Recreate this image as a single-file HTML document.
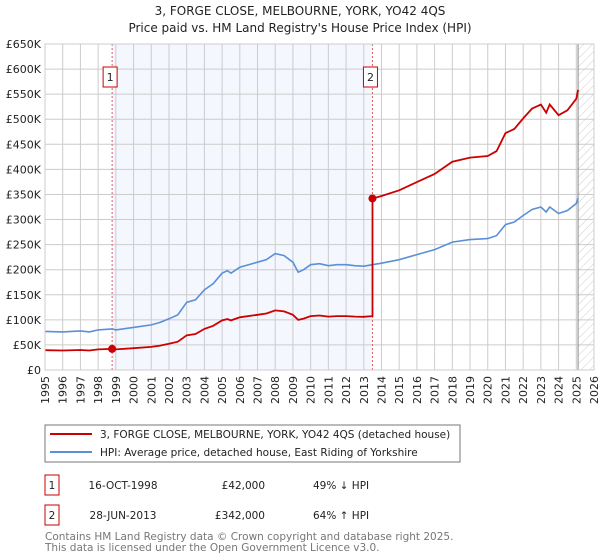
<!DOCTYPE html>
<html><head><meta charset="utf-8"><style>
body{margin:0;background:#fff;font-family:"Liberation Sans","DejaVu Sans",sans-serif;}
svg{display:block}
text{font-family:"DejaVu Sans","Liberation Sans",sans-serif;}
</style></head><body>
<svg id="chart" width="600" height="560">
<text x="300" y="15" text-anchor="middle" font-size="12" fill="#222">3, FORGE CLOSE, MELBOURNE, YORK, YO42 4QS</text>
<text x="300" y="32" text-anchor="middle" font-size="12" fill="#222">Price paid vs. HM Land Registry's House Price Index (HPI)</text>
<defs><pattern id="hatch" width="6" height="6" patternUnits="userSpaceOnUse" patternTransform="rotate(45)"><line x1="0" y1="0" x2="0" y2="6" stroke="#ccc" stroke-width="1"/></pattern></defs>
<g id="plot"></g>
<rect x="45" y="425" width="415" height="37" fill="#fff" stroke="#777"/>
<line x1="50" y1="434" x2="92" y2="434" stroke="#cc0000" stroke-width="2"/>
<text x="100" y="438" font-size="10.5" fill="#222">3, FORGE CLOSE, MELBOURNE, YORK, YO42 4QS (detached house)</text>
<line x1="50" y1="452" x2="92" y2="452" stroke="#5b8fd6" stroke-width="2"/>
<text x="100" y="456" font-size="10.5" fill="#222">HPI: Average price, detached house, East Riding of Yorkshire</text>
<g font-size="10.5" fill="#222">
<rect x="45" y="475" width="14" height="20" fill="none" stroke="#cc0000"/>
<text x="52" y="489" text-anchor="middle">1</text>
<text x="123" y="489" text-anchor="middle">16-OCT-1998</text>
<text x="265" y="489" text-anchor="end">£42,000</text>
<text x="313" y="489">49% ↓ HPI</text>
<rect x="45" y="505" width="14" height="20" fill="none" stroke="#cc0000"/>
<text x="52" y="519" text-anchor="middle">2</text>
<text x="123" y="519" text-anchor="middle">28-JUN-2013</text>
<text x="265" y="519" text-anchor="end">£342,000</text>
<text x="313" y="519">64% ↑ HPI</text>
</g>
<text x="45" y="540" font-size="10.5" fill="#777">Contains HM Land Registry data © Crown copyright and database right 2025.</text>
<text x="45" y="551" font-size="10.5" fill="#777">This data is licensed under the Open Government Licence v3.0.</text>
</svg>
<script>
const hpiYears=[1995,1996,1997,1997.5,1998,1998.79,1999,2000,2001,2001.5,2002,2002.5,2003,2003.5,2004,2004.5,2005,2005.3,2005.5,2006,2007,2007.5,2008,2008.5,2009,2009.3,2009.6,2010,2010.5,2011,2011.5,2012,2012.5,2013,2013.49,2014,2015,2016,2017,2018,2019,2020,2020.5,2021,2021.5,2022,2022.5,2023,2023.3,2023.5,2024,2024.5,2025,2025.1];
const hpiValues=[77,76,78,76,80,82,80,85,90,95,102,110,135,140,160,172,193,198,193,205,215,220,232,228,215,195,200,210,212,208,210,210,208,207,210,213,220,230,240,255,260,262,268,290,295,308,320,325,315,325,312,318,332,343];
const saleYears=[1998.79,2013.49];
const salePrices=[42,342];
const yTicks=[0,50,100,150,200,250,300,350,400,450,500,550,600,650];
const yTickLabels=["£0","£50K","£100K","£150K","£200K","£250K","£300K","£350K","£400K","£450K","£500K","£550K","£600K","£650K"];
const xTicks=[1995,1996,1997,1998,1999,2000,2001,2002,2003,2004,2005,2006,2007,2008,2009,2010,2011,2012,2013,2014,2015,2016,2017,2018,2019,2020,2021,2022,2023,2024,2025,2026];
const dataEnd=2025.1;

const L=45,R=594,T=44,B=370,X0=1995,X1=2026,YMAX=650;
const xs=v=>L+(v-X0)/(X1-X0)*(R-L);
const ys=v=>B-v/YMAX*(B-T);
const NS='http://www.w3.org/2000/svg';
const g=document.getElementById('plot');
function mk(tag,attrs){const e=document.createElementNS(NS,tag);for(const k in attrs)e.setAttribute(k,attrs[k]);g.appendChild(e);return e;}
function hpiAt(t){for(let i=0;i<hpiYears.length-1;i++){if(t>=hpiYears[i]&&t<=hpiYears[i+1]){const f=(t-hpiYears[i])/(hpiYears[i+1]-hpiYears[i]);return hpiValues[i]+f*(hpiValues[i+1]-hpiValues[i]);}}return hpiValues[hpiValues.length-1];}

let e=mk('rect',{x:xs(saleYears[0]),y:T,width:xs(saleYears[1])-xs(saleYears[0]),height:B-T,fill:'#f4f7fe'});


e=mk('rect',{x:xs(dataEnd),y:T,width:R-xs(dataEnd),height:B-T,fill:'url(#hatch)'});


xTicks.forEach(t=>{
  e=mk('line',{x1:xs(t),y1:T,x2:xs(t),y2:B,stroke:'#ccc','stroke-width':1});
  
  
  const tx=mk('text',{x:0,y:0,'font-size':11,fill:'#222','text-anchor':'end',transform:`translate(${xs(t)+4},${B+6}) rotate(-90)`});
  tx.textContent=t;
  
  
});
yTicks.forEach((t,i)=>{
  e=mk('line',{x1:L,y1:ys(t),x2:R,y2:ys(t),stroke:'#ccc','stroke-width':1});
  
  
  const tx=mk('text',{x:L-4,y:ys(t)+4,'font-size':11,fill:'#222','text-anchor':'end'});
  tx.textContent=yTickLabels[i];
  
  
});
e=mk('line',{x1:xs(dataEnd),y1:T,x2:xs(dataEnd),y2:B,stroke:'#888','stroke-width':1});


saleYears.forEach((s,i)=>{
  e=mk('line',{x1:xs(s),y1:T,x2:xs(s),y2:B,stroke:'#e06060','stroke-width':1,'stroke-dasharray':'2,2'});
  
  
  e=mk('rect',{x:xs(s)-9,y:67,width:14,height:20,fill:'#fff',stroke:'#cc0000'});
  
  
  const tx=mk('text',{x:xs(s)-2,y:81,'font-size':11,fill:'#222','text-anchor':'middle'});
  tx.textContent=i+1;
  
  
});
let d=hpiYears.map((t,i)=>(i?'L':'M')+xs(t).toFixed(1)+','+ys(hpiValues[i]).toFixed(1)).join('');
e=mk('path',{d:d,fill:'none',stroke:'#5b8fd6','stroke-width':1.6});


let pts=[];
const r0=salePrices[0]/hpiAt(saleYears[0]), r1=salePrices[1]/hpiAt(saleYears[1]);
hpiYears.forEach((t,i)=>{ if(t<saleYears[1]) pts.push([t,hpiValues[i]*r0]); });
pts.push([saleYears[1],hpiAt(saleYears[1])*r0]);
pts.push([saleYears[1],salePrices[1]]);
hpiYears.forEach((t,i)=>{ if(t>saleYears[1]) pts.push([t,hpiValues[i]*r1]); });
d=pts.map((p,i)=>(i?'L':'M')+xs(p[0]).toFixed(1)+','+ys(p[1]).toFixed(1)).join('');
e=mk('path',{d:d,fill:'none',stroke:'#cc0000','stroke-width':1.8});


saleYears.forEach((s,i)=>{
  e=mk('circle',{cx:xs(s),cy:ys(salePrices[i]),r:4,fill:'#cc0000'});
  
  
});
e=mk('rect',{x:L,y:T,width:R-L,height:B-T,fill:'none',stroke:'#ccc'});


</script>
</body></html>
